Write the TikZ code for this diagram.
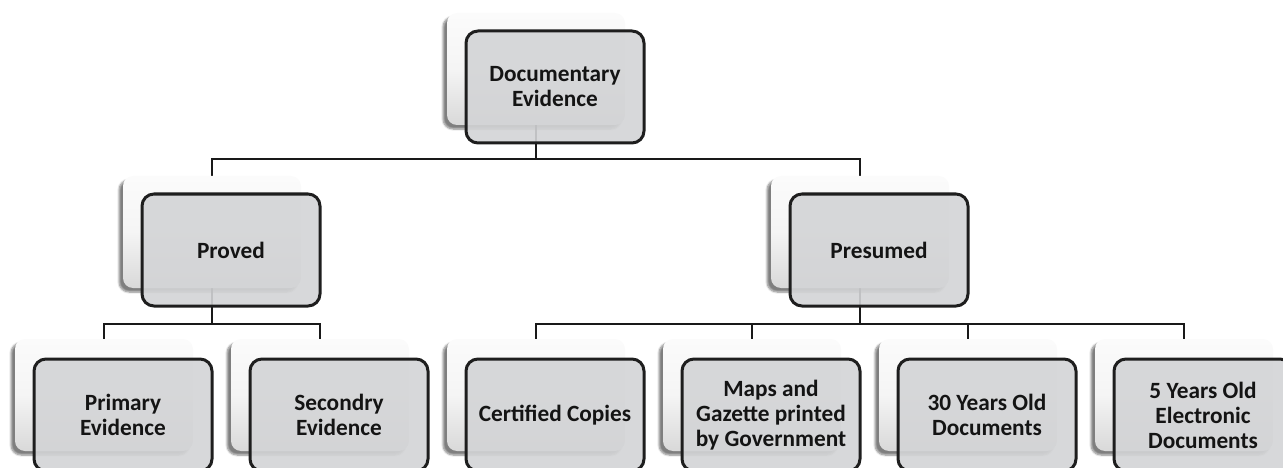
\documentclass[tikz,border=0pt]{standalone}
\usepackage{fontspec}
\setmainfont{Carlito}
\usetikzlibrary{shadows.blur}
\definecolor{frontfill}{HTML}{D3D4D6}
\definecolor{frontline}{HTML}{1E1E1E}
\begin{document}
\begin{tikzpicture}[x=1pt,y=-1pt,
  backbox/.style={rectangle,rounded corners=10pt,minimum width=178pt,minimum height=112pt,
    inner sep=0pt,draw=none,top color=gray!3,bottom color=gray!30,middle color=gray!8,
    blur shadow={shadow xshift=-4pt,shadow yshift=-4pt,shadow blur steps=6,shadow opacity=50}},
  frontbox/.style={rectangle,rounded corners=12pt,minimum width=178pt,minimum height=112pt,
    inner sep=2pt,draw=frontline,line width=3pt,fill=frontfill,fill opacity=0.9,text opacity=1,
    align=center,font=\fontsize{23.3}{25}\selectfont\bfseries,text=black!92},
  conn/.style={draw=black!90,line width=2pt}]
\useasboundingbox (0,0) rectangle (1283,468);

% connectors
\coordinate (l1) at (0,159);
\coordinate (l2) at (0,324);
\coordinate (docs) at (536,125);
\coordinate (provn) at (212,176);
\coordinate (presn) at (860,176);
\coordinate (provs) at (212,288);
\coordinate (press) at (860,288);
\coordinate (c1) at (104,339);
\coordinate (c2) at (320,339);
\coordinate (c3) at (536,339);
\coordinate (c4) at (752,339);
\coordinate (c5) at (968,339);
\coordinate (c6) at (1184,339);

\draw[conn] (docs) -- (docs |- l1);
\draw[conn] (provn) -- (provn |- l1) -- (presn |- l1) -- (presn);
\draw[conn] (provs) -- (provs |- l2);
\draw[conn] (c1) -- (c1 |- l2) -- (c2 |- l2) -- (c2);
\draw[conn] (press) -- (press |- l2);
\draw[conn] (c3) -- (c3 |- l2) -- (c6 |- l2) -- (c6);
\draw[conn] (c4) -- (c4 |- l2);
\draw[conn] (c5) -- (c5 |- l2);

% back boxes
\node[backbox] (docb) at (536,69) {};
\node[backbox] (provb) at (212,232) {};
\node[backbox] (presb) at (860,232) {};
\node[backbox] (b1) at (104,395) {};
\node[backbox] (b2) at (320,395) {};
\node[backbox] (b3) at (536,395) {};
\node[backbox] (b4) at (752,395) {};
\node[backbox] (b5) at (968,395) {};
\node[backbox] (b6) at (1184,395) {};

% front boxes
\node[frontbox] (doc) at (555,87) {Documentary\\Evidence};
\node[frontbox] (prov) at (231,250) {Proved};
\node[frontbox] (pres) at (879,250) {Presumed};
\node[frontbox] (f1) at (123,415) {Primary\\Evidence};
\node[frontbox] (f2) at (339,415) {Secondry\\Evidence};
\node[frontbox] (f3) at (555,415) {Certified Copies};
\node[frontbox] (f4) at (771,415) {Maps and\\Gazette printed\\by Government};
\node[frontbox] (f5) at (987,415) {30 Years Old\\Documents};
\node[frontbox] (f6) at (1203,415) {5 Years Old\\Electronic\\Documents};
\end{tikzpicture}
\end{document}
